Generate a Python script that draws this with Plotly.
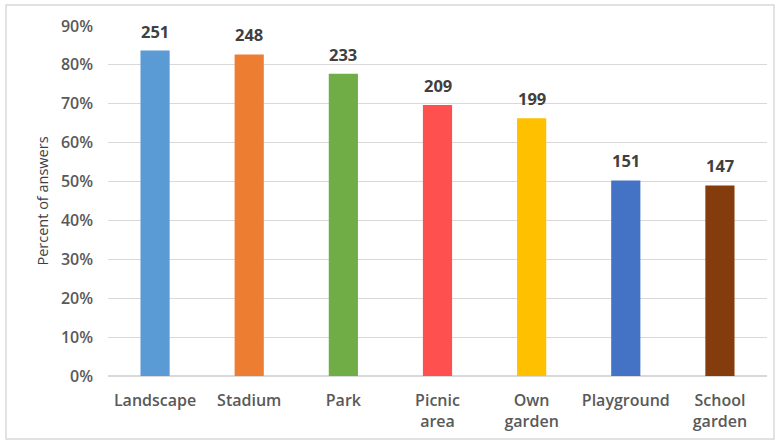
import plotly.graph_objects as go

categories = ["Landscape", "Stadium", "Park", "Picnic<br>area", "Own<br>garden", "Playground", "School<br>garden"]
percent = [0.837, 0.827, 0.777, 0.697, 0.663, 0.503, 0.490]
counts = [251, 248, 233, 209, 199, 151, 147]
colors = ["#5B9BD5", "#ED7D31", "#70AD47", "#FF5050", "#FFC000", "#4472C4", "#843C0C"]
y_ticks = [0, 0.1, 0.2, 0.3, 0.4, 0.5, 0.6, 0.7, 0.8, 0.9]

W, H = 777, 441
L, R, T, B = 108, 10, 26, 65
pw, ph = W - L - R, H - T - B
FONT = "Open Sans, Lato, sans-serif"

fig = go.Figure(go.Bar(
    x=categories, y=percent, marker_color=colors, marker_line_width=0, cliponaxis=False,
    hoverinfo="skip",
))

for c, p, n in zip(categories, percent, counts):
    fig.add_annotation(x=c, y=p, text=str(n), showarrow=False, yanchor="bottom", yshift=6,
                       font=dict(family=FONT, size=16.5, color="#404040", weight="bold"))

fig.update_layout(
    width=W, height=H, margin=dict(l=L, r=R, t=T, b=B, autoexpand=False),
    plot_bgcolor="white", paper_bgcolor="white", showlegend=False,
    bargap=0.69,
    font=dict(family=FONT, color="#595959"),
    xaxis=dict(showgrid=False, showline=False, ticks="", tickfont=dict(size=16, weight=600),
               ticklabelstandoff=13, automargin=False),
    yaxis=dict(range=[0, 0.9], tickvals=y_ticks, tickformat=".0%", showgrid=True,
               gridcolor="#D9D9D9", gridwidth=1, zeroline=True, zerolinecolor="#D9D9D9",
               tickfont=dict(size=16, weight=600), ticklabelstandoff=14, automargin=False,
               title=dict(text="Percent of answers", font=dict(size=14.5, color="#404040"), standoff=8)),
    shapes=[dict(type="rect", xref="paper", yref="paper",
                 x0=(6 - L) / pw, x1=(774 - L) / pw,
                 y0=(H - B - 439) / ph, y1=(H - B - 5) / ph,
                 line=dict(color="#D9D9D9", width=1.5), fillcolor="rgba(0,0,0,0)", layer="below")],
)

fig.write_html("out.html", config={"displayModeBar": False},
               post_script="document.body.style.margin='0';")
